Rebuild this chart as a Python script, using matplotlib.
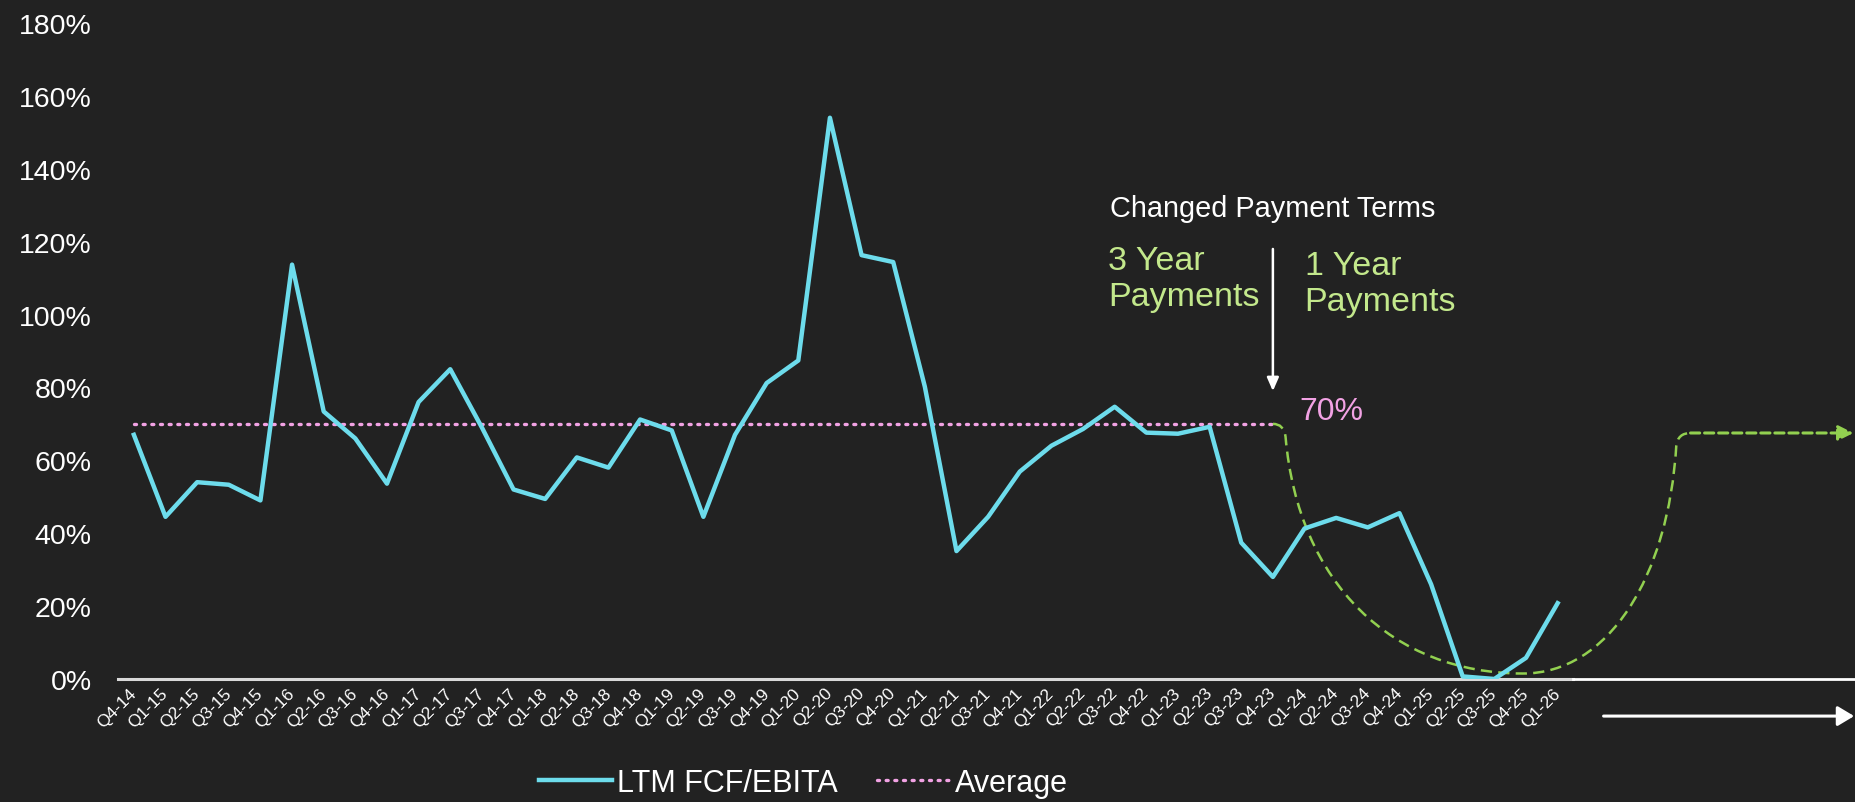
import numpy as np
import matplotlib.pyplot as plt
from matplotlib.path import Path
from matplotlib.patches import PathPatch, FancyArrowPatch
from matplotlib.ticker import FuncFormatter

plt.rcParams['font.family'] = ['Liberation Sans', 'DejaVu Sans']

BG = '#222222'
CYAN = '#6ddcec'
PINK = '#f2a2e4'
GREEN_TXT = '#c3e88c'
GREEN_LINE = '#92d050'

quarters = ['Q4-14',
            'Q1-15', 'Q2-15', 'Q3-15', 'Q4-15',
            'Q1-16', 'Q2-16', 'Q3-16', 'Q4-16',
            'Q1-17', 'Q2-17', 'Q3-17', 'Q4-17',
            'Q1-18', 'Q2-18', 'Q3-18', 'Q4-18',
            'Q1-19', 'Q2-19', 'Q3-19', 'Q4-19',
            'Q1-20', 'Q2-20', 'Q3-20', 'Q4-20',
            'Q1-21', 'Q2-21', 'Q3-21', 'Q4-21',
            'Q1-22', 'Q2-22', 'Q3-22', 'Q4-22',
            'Q1-23', 'Q2-23', 'Q3-23', 'Q4-23',
            'Q1-24', 'Q2-24', 'Q3-24', 'Q4-24',
            'Q1-25', 'Q2-25', 'Q3-25', 'Q4-25',
            'Q1-26']

# LTM FCF/EBITA in percent
fcf_ebita = [67, 44.5, 54, 53.3, 49, 113.7, 73.4, 66, 53.6, 76, 85, 69,
             52, 49.4, 60.8, 58, 71.2, 68.2, 44.5, 67, 81.2, 87.4, 154,
             116.3, 114.4, 80.2, 35.1, 44.5, 56.9, 64, 68.6, 74.7, 67.6,
             67.3, 69.2, 37.4, 28, 41.3, 44.2, 41.6, 45.5, 26, 0.7, 0,
             5.8, 20.8]

average = 70
change_quarter = 'Q4-23'

# hand-drawn outlook curve (x in quarter index, y in %)
outlook_pts = [(36.0, 70.0), (36.35, 70.0), (36.4, 66.5),
               (36.8, 26.0), (39.8, 1.5), (43.9, 1.5),
               (46.6, 1.5), (48.5, 28.0), (48.75, 64.0),
               (48.8, 67.5), (49.2, 67.5)]
outlook_level = 67.5
outlook_arrow_end = 54.35

x = np.arange(len(quarters))
i_change = quarters.index(change_quarter)

fig = plt.figure(figsize=(18.56, 8.03), dpi=100, facecolor=BG)
ax = fig.add_axes([0.0636, 0.1532, 0.9364, 0.8169])
ax.set_facecolor(BG)

ax.plot(x, fcf_ebita, color=CYAN, lw=3.2, solid_joinstyle='round',
        label='LTM FCF/EBITA', zorder=4)
ax.plot([0, i_change], [average, average], color=PINK, lw=2.4,
        linestyle=(0, (0.6, 2.0)), dash_capstyle='round',
        label='Average', zorder=3)

codes = [Path.MOVETO, Path.CURVE3, Path.CURVE3,
         Path.CURVE4, Path.CURVE4, Path.CURVE4,
         Path.CURVE4, Path.CURVE4, Path.CURVE4,
         Path.CURVE3, Path.CURVE3]
ax.add_patch(PathPatch(Path(outlook_pts, codes), facecolor='none',
                       edgecolor=GREEN_LINE, lw=1.8,
                       linestyle=(0, (4.5, 2.5)), clip_on=False, zorder=3))
ax.annotate('', xy=(outlook_arrow_end, outlook_level),
            xytext=(outlook_pts[-1][0], outlook_level),
            arrowprops=dict(arrowstyle='-|>,head_length=0.9,head_width=0.45',
                            color=GREEN_LINE, lw=2.2, linestyle=(0, (3, 1.6)),
                            shrinkA=0, shrinkB=0),
            annotation_clip=False)

# axis line + extension to the right
ax.plot([-0.5, len(quarters) - 0.5], [0, 0], color='#d9d9d9', lw=2.2,
        clip_on=False, zorder=2)
ax.plot([len(quarters) - 0.5, 54.43], [0, 0], color='white', lw=2,
        clip_on=False, zorder=2)

ax.set_xlim(-0.5, 54.43)
ax.set_ylim(0, 180)
ax.set_yticks(np.arange(0, 181, 20))
ax.yaxis.set_major_formatter(FuncFormatter(lambda v, p: f'{v:.0f}%'))
ax.set_xticks(x)
ax.set_xticklabels(quarters, rotation=45, ha='right', va='center',
                   rotation_mode='anchor')
ax.tick_params(axis='x', length=0, pad=8, labelsize=12.5, colors='white')
ax.tick_params(axis='y', length=0, pad=19, labelsize=20.5, colors='white')
for s in ax.spines.values():
    s.set_visible(False)

# annotations
ax.text(i_change, 129.3, 'Changed Payment Terms', color='white',
        fontsize=20.8, ha='center', va='center')
ax.text(30.8, 109.8, '3 Year\nPayments', color=GREEN_TXT, fontsize=24.5,
        ha='left', va='center', linespacing=1.2)
ax.text(37.0, 108.5, '1 Year\nPayments', color=GREEN_TXT, fontsize=24.5,
        ha='left', va='center', linespacing=1.2)
ax.annotate('', xy=(i_change, 79.0), xytext=(i_change, 118.0),
            arrowprops=dict(arrowstyle='-|>,head_length=0.8,head_width=0.35',
                            color='white', lw=1.8, shrinkA=0, shrinkB=0))
ax.text(36.85, 73.4, f'{average}%', color=PINK, fontsize=23,
        ha='left', va='center')

# white arrow under the forecast area
fig.add_artist(FancyArrowPatch(
    (0.864, 0.107), (0.999, 0.107), transform=fig.transFigure,
    arrowstyle='-|>,head_length=10,head_width=6', color='white', lw=2.2,
    shrinkA=0, shrinkB=0))

fig.legend(loc='center', bbox_to_anchor=(0.433, 0.024), ncol=2,
           frameon=False, fontsize=22, labelcolor='white',
           handlelength=2.4, handletextpad=0.15, columnspacing=1.3)

fig.savefig('out.png', dpi=100, facecolor=BG)
